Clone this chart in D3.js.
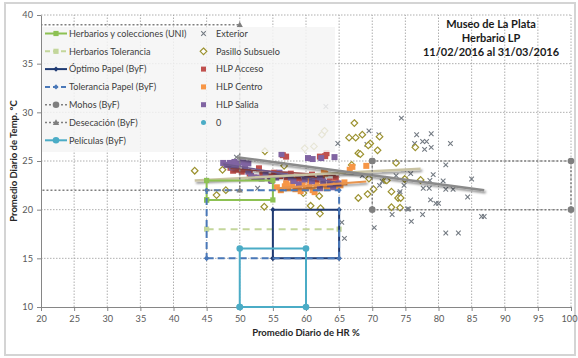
<!DOCTYPE html>
<html><head><meta charset="utf-8">
<script src="https://cdn.jsdelivr.net/npm/d3@7"></script>
<style>
body{margin:0;background:#fff}
text{font-family:Lato,"Open Sans",sans-serif}
</style>
</head><body>
<svg id="chart" width="578" height="358"></svg>
<script>
// Axis tick values
const xTicks = [20,25,30,35,40,45,50,55,60,65,70,75,80,85,90,95,100];
const yTicks = [10,15,20,25,30,35,40];

// Daily averages: [HR %, Temp °C]
const exterior = [[49.5,25.4],[52.7,22.2],[63.0,30.6],[74.4,29.4],[69.5,28.1],[71.0,27.7],[64.8,26.8],[69.2,26.7],
  [76.7,27.7],[78.9,27.8],[76.4,26.8],[77.6,27.0],[78.2,27.0],[77.9,26.2],[78.9,26.4],[81.8,26.8],[81.1,24.6],
  [75.8,23.7],[79.2,23.6],[78.7,23.0],[80.7,22.95],[85.0,23.15],[74.8,22.5],[77.7,22.2],[78.6,22.2],[81.1,22.1],
  [82.2,22.1],[84.4,21.3],[78.8,21.0],[79.6,20.65],[80.0,20.65],[75.3,20.07],[75.5,20.07],[77.6,19.5],[75.9,18.8],
  [86.5,19.3],[86.9,19.3],[70.3,18.15],[81.1,17.6],[83.0,17.6],[73.0,19.5],[74.1,21.7],[73.6,23.5],[75.0,23.15],
  [71.1,22.5],[71.5,22.9],[68.5,23.5],[65.4,18.7],[65.8,17.05],[74.2,21.85]];

const pasillo = [[43.2,24.0],[47.4,24.1],[53.8,26.0],[46.5,21.5],[47.9,22.0],[53.7,20.3],[56.7,24.5],[59.6,21.7],
  [60.7,20.4],[62.0,21.4],[62.2,20.15],[62.1,19.6],[67.9,21.2],[69.3,21.6],[70.2,22.1],[67.3,28.9],[66.5,27.4],
  [67.5,27.4],[68.5,27.7],[69.7,26.8],[71.1,27.5],[62.4,27.7],[62.8,28.1],[59.8,26.3],[61.2,26.5],[67.9,25.8],
  [70.8,26.1],[73.6,24.8],[69.5,23.2],[72.0,23.05],[72.2,23.0],[72.9,21.85],[73.9,21.2],[72.9,20.25],[74.2,20.2],
  [76.5,26.4],[77.3,23.05],[74.9,23.15],[74.3,21.2],[68.2,25.7],[66.9,24.6],[69.4,26.6]];

const hlpAcceso = [[49.0,24.0],[49.5,24.1],[50.3,23.9],[51.5,23.7],[52.9,24.25],[53.4,23.55],[54.6,23.4],[56.1,23.45],
  [56.5,25.6],[57.0,25.45],[57.1,23.3],[57.7,23.7],[58.3,23.1],[58.8,23.2],[60.3,23.3],[61.6,23.05],[62.1,25.45],
  [62.4,23.4],[62.9,25.5],[63.1,25.8],[63.6,22.9],[64.5,23.2],[48.6,24.3],[50.8,24.1],[55.2,23.8],[59.4,22.9],
  [60.9,23.6],[52.2,23.3]];

const hlpCentro = [[55.6,22.3],[56.2,22.0],[56.8,22.4],[57.3,22.2],[57.9,22.5],[58.4,22.1],[58.9,22.3],[59.5,22.6],
  [60.0,22.2],[60.5,22.4],[61.0,22.0],[61.6,22.5],[62.1,22.3],[62.6,22.6],[63.1,22.2],[63.7,22.4],[64.2,22.7],
  [64.7,22.3],[65.2,22.5],[65.8,22.8],[59.2,21.9],[61.3,21.8],[57.0,22.7],[62.7,23.9],[66.6,24.1],[67.0,24.4],
  [69.1,24.5],[62.9,23.7],[60.6,23.0],[58.0,23.0]];

const hlpSalida = [[47.5,24.8],[48.0,24.6],[48.5,24.8],[49.2,24.9],[49.8,24.75],[50.5,24.85],[51.3,24.75],[48.8,24.35],
  [49.4,24.4],[50.8,24.4],[51.3,23.9],[51.7,23.45],[52.5,23.3],[53.3,23.2],[54.7,23.05],[56.0,23.8],[56.8,23.6],
  [57.7,23.3],[56.3,25.7],[58.1,22.95],[54.8,22.95],[60.3,25.3],[61.0,25.2],[62.3,25.3],[64.3,25.4],[59.8,23.1],
  [60.9,22.9],[62.1,23.3],[62.6,22.9],[63.6,22.6],[64.9,22.7],[62.1,22.2],[64.1,22.3],[55.5,23.3],[58.9,22.6],
  [53.9,23.6]];

const serieCero = [];

// Linear trends (start and end of each fitted line)
const trendExterior = [[49.5,25.4],[86.9,22.0]];
const trendPasillo = [[43.2,23.0],[77.3,24.2]];
const trendSalida = [[47.5,24.7],[64.9,22.8]];
const trendAcceso = [[48.6,24.2],[64.5,23.5]];
const trendCentro = [[55.6,22.2],[69.1,22.9]];

// Conservation ranges (polygon vertices, [HR %, Temp °C])
const herbariosUNI = [[45,21],[55,21],[55,23],[45,23],[45,21]];
const herbariosTol = [[45,18],[65,18]];
const optimoPapel = [[55,15],[65,15],[65,20],[55,20],[55,15]];
const toleranciaPapel = [[45,15],[65,15],[65,22],[45,22],[45,15]];
const mohos = [[70,25],[100,25],[100,20],[70,20],[70,25]];
const desecacion = [[0,39],[50,39],[50,22],[0,22]];
const peliculas = [[50,10],[60,10],[60,16],[50,16],[50,10]];

const titleLines = ["Museo de La Plata","Herbario LP","11/02/2016 al 31/03/2016"];

const svg = d3.select("#chart");
const W = 578, H = 358;

const x = d3.scaleLinear().domain([20,100]).range([41,571]);
const y = d3.scaleLinear().domain([10,40]).range([307,15]);

const defs = svg.append("defs");
// drop shadow for trend lines
const f = defs.append("filter").attr("id","shadow").attr("x","-10%").attr("y","-200%").attr("width","120%").attr("height","500%");
f.append("feDropShadow").attr("dx",1.5).attr("dy",2).attr("stdDeviation",1.3).attr("flood-color","#000").attr("flood-opacity",0.45);
// plot area clip (markers may overhang by a few pixels)
defs.append("clipPath").attr("id","plotclip").append("rect")
  .attr("x",x(20)).attr("y",y(40)-5).attr("width",x(100)-x(20)+6).attr("height",y(10)-y(40)+11);

// chart frame
svg.append("rect").attr("x",0).attr("y",0).attr("width",W).attr("height",H).attr("fill","#fff");
svg.append("rect").attr("x",5).attr("y",3).attr("width",570).attr("height",352)
  .attr("fill","#fff").attr("stroke","#d4d4d4").attr("stroke-width",2);

// gridlines
const grid = svg.append("g");
grid.selectAll(".gx").data(xTicks.filter(d=>d>20)).join("line")
  .attr("x1",d=>x(d)).attr("x2",d=>x(d)).attr("y1",y(10)).attr("y2",y(40))
  .attr("stroke","#9a9a9a").attr("stroke-width",0.8).attr("stroke-dasharray","1.5,1.5");
grid.selectAll(".gy").data(yTicks.filter(d=>d>10)).join("line")
  .attr("x1",x(20)).attr("x2",x(100)).attr("y1",d=>y(d)).attr("y2",d=>y(d))
  .attr("stroke","#9a9a9a").attr("stroke-width",0.8).attr("stroke-dasharray","1.5,1.5");

// axes
const axStyle = g => {
  g.select(".domain").attr("stroke","#868686");
  g.selectAll(".tick line").attr("stroke","#868686");
  g.selectAll(".tick text").attr("fill","#595959").style("font-size","9.2px").style("font-family","Lato, sans-serif");
};
const xAxisG = svg.append("g").attr("transform",`translate(0,${y(10)})`)
  .call(d3.axisBottom(x).tickValues(xTicks).tickSize(4).tickSizeOuter(0).tickPadding(4)).call(axStyle);
// last label sits against the frame edge
xAxisG.selectAll(".tick text").filter(d=>d===100).attr("dx",-2);
svg.append("g").attr("transform",`translate(${x(20)},0)`)
  .call(d3.axisLeft(y).tickValues(yTicks).tickSize(4).tickSizeOuter(0).tickPadding(4)).call(axStyle);

// axis titles
svg.append("text").attr("x",(x(20)+x(100))/2).attr("y",336).attr("text-anchor","middle")
  .style("font-size","9.5px").style("font-weight","bold").attr("fill","#262626").text("Promedio Diario de HR %");
svg.append("text").attr("transform",`translate(17,${(y(10)+y(40))/2}) rotate(-90)`).attr("text-anchor","middle")
  .style("font-size","9.5px").style("font-weight","bold").attr("fill","#262626").text("Promedio Diario de Temp. °C");

const line = d3.line().x(d=>x(d[0])).y(d=>y(d[1]));
const plot = svg.append("g").attr("clip-path","url(#plotclip)");

// marker drawers
const sym = {
  cross: (g,c) => g.append("path").attr("d","M-2.3,-2.3L2.3,2.3M-2.3,2.3L2.3,-2.3").attr("stroke",c).attr("stroke-width",1.1).attr("fill","none"),
  diamondHollow: (g,c) => g.append("path").attr("d","M0,-3.3L3.3,0L0,3.3L-3.3,0Z").attr("stroke",c).attr("stroke-width",1.2).attr("fill","#fff"),
  square: (g,c) => g.append("rect").attr("x",-3).attr("y",-3).attr("width",6).attr("height",6).attr("fill",c),
  smallSquare: (g,c) => g.append("rect").attr("x",-2.6).attr("y",-2.6).attr("width",5.2).attr("height",5.2).attr("fill",c),
  smallDiamond: (g,c) => g.append("path").attr("d","M0,-2.6L2.6,0L0,2.6L-2.6,0Z").attr("fill",c),
  circle: (g,c) => g.append("circle").attr("r",3.3).attr("fill",c),
  triangle: (g,c) => g.append("path").attr("d","M0,-3.3L3.2,2.4L-3.2,2.4Z").attr("fill",c)
};

function scatter(data, kind, color){
  const g = plot.append("g");
  data.forEach(d => {
    const m = g.append("g").attr("transform",`translate(${x(d[0])},${y(d[1])})`);
    sym[kind](m,color);
  });
}

scatter(exterior,"cross","#737a82");
scatter(pasillo,"diamondHollow","#9c9230");
scatter(hlpAcceso,"square","#c0504d");
scatter(hlpCentro,"square","#f79646");
scatter(hlpSalida,"square","#8064a2");
scatter(serieCero,"circle","#4bacc6");

// trend lines
function trend(data,color,w){
  plot.append("path").datum(data).attr("d",line).attr("fill","none")
    .attr("stroke",color).attr("stroke-width",w).attr("filter","url(#shadow)");
}
trend(trendAcceso,"#9b4a48",1.5);
trend(trendSalida,"#6e5a8c",1.5);
trend(trendCentro,"#e8944e",2);
trend(trendPasillo,"#c9c3a3",2.4);
trend(trendExterior,"#8a8a8a",2.4);

// range series
const ranges = [
  {name:"Herbarios y colecciones (UNI)", data:herbariosUNI, color:"#8dc153", dash:null, w:2, mk:"smallSquare"},
  {name:"Herbarios Tolerancia", data:herbariosTol, color:"#c3d69b", dash:"7,5", w:2, mk:"smallSquare"},
  {name:"Óptimo Papel (ByF)", data:optimoPapel, color:"#1f3a73", dash:null, w:2, mk:"smallDiamond"},
  {name:"Tolerancia Papel (ByF)", data:toleranciaPapel, color:"#4a78b8", dash:"7,4", w:2, mk:"smallDiamond"},
  {name:"Mohos (ByF)", data:mohos, color:"#7f7f7f", dash:"2,2", w:1.5, mk:"circle"},
  {name:"Desecación (ByF)", data:desecacion, color:"#7f7f7f", dash:"2,2", w:1.5, mk:"triangle"},
  {name:"Películas (ByF)", data:peliculas, color:"#4bacc6", dash:null, w:2, mk:"circle"}
];
ranges.forEach(r => {
  plot.append("path").datum(r.data).attr("d",line).attr("fill","none")
    .attr("stroke",r.color).attr("stroke-width",r.w).attr("stroke-dasharray",r.dash);
  const g = plot.append("g");
  r.data.forEach(d => {
    const m = g.append("g").attr("transform",`translate(${x(d[0])},${y(d[1])})`);
    sym[r.mk](m,r.color);
  });
});

// legend
const lg = svg.append("g");
lg.append("rect").attr("x",42).attr("y",27).attr("width",293).attr("height",125)
  .attr("fill","#f4f4f4").attr("fill-opacity",0.85);
const rowY = i => 33.5 + i*17.8;
ranges.forEach((r,i) => {
  const yy = rowY(i);
  lg.append("line").attr("x1",45).attr("x2",67).attr("y1",yy).attr("y2",yy)
    .attr("stroke",r.color).attr("stroke-width",r.w).attr("stroke-dasharray",r.dash ? (r.dash==="2,2"?"2,2":"5,3") : null);
  const m = lg.append("g").attr("transform",`translate(56,${yy})`);
  sym[r.mk](m,r.color);
  lg.append("text").attr("x",69).attr("y",yy+3.2).style("font-size","9.1px").attr("fill","#404040").text(r.name);
});
const right = [
  {name:"Exterior", kind:"cross", color:"#737a82"},
  {name:"Pasillo Subsuelo", kind:"diamondHollow", color:"#9c9230"},
  {name:"HLP Acceso", kind:"square", color:"#c0504d"},
  {name:"HLP Centro", kind:"square", color:"#f79646"},
  {name:"HLP Salida", kind:"square", color:"#8064a2"},
  {name:"0", kind:"circle", color:"#4bacc6"}
];
right.forEach((r,i) => {
  const yy = rowY(i);
  const m = lg.append("g").attr("transform",`translate(203.5,${yy})`);
  if (r.kind==="square") m.append("rect").attr("x",-2.5).attr("y",-2.5).attr("width",5).attr("height",5).attr("fill",r.color);
  else if (r.kind==="circle") m.append("circle").attr("r",2.5).attr("fill",r.color);
  else sym[r.kind](m,r.color);
  lg.append("text").attr("x",216).attr("y",yy+3.2).style("font-size","9.1px").attr("fill","#404040").text(r.name);
});

// title block
svg.append("g").selectAll("text").data(titleLines).join("text")
  .attr("x",491).attr("y",(d,i)=>28+i*14).attr("text-anchor","middle")
  .style("font-size","11px").style("font-weight","bold").attr("fill","#1a1a1a").text(d=>d);
</script>
</body></html>
